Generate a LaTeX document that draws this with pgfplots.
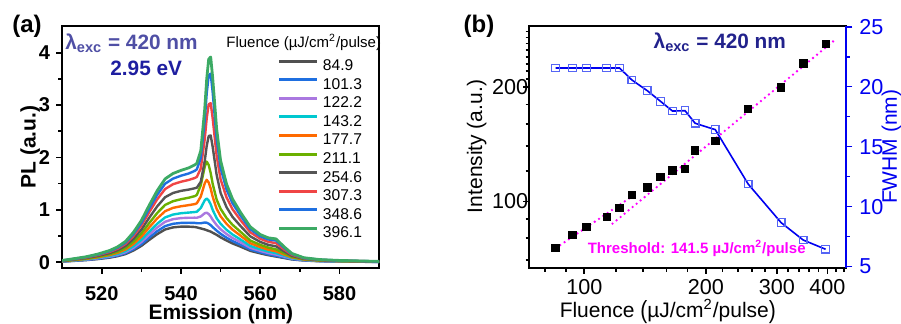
\documentclass[border=0pt]{standalone}
\usepackage{pgfplots}
\pgfplotsset{compat=1.18}
\usepackage{pgfplotstable}
\usepackage{fontspec}
\setmainfont{Liberation Sans}

\definecolor{cA}{HTML}{505050}
\definecolor{cB}{HTML}{1F6FE0}
\definecolor{cC}{HTML}{AA78E0}
\definecolor{cD}{HTML}{00C8D0}
\definecolor{cE}{HTML}{FF6A00}
\definecolor{cF}{HTML}{6BB000}
\definecolor{cG}{HTML}{555555}
\definecolor{cH}{HTML}{F04545}
\definecolor{cI}{HTML}{1F6FE0}
\definecolor{cJ}{HTML}{3CAA64}
\definecolor{mag}{HTML}{FF00FF}
\definecolor{fblue}{HTML}{0000F0}
\definecolor{sqblue}{HTML}{5565F5}
\definecolor{navyA}{HTML}{4F4FA5}
\definecolor{navyB}{HTML}{1E1EA0}
\definecolor{navyC}{HTML}{22228C}

\pgfplotstableread{
x c1 c2 c3 c4 c5 c6 c7 c8 c9 c10
510 0.014 0.015 0.017 0.019 0.021 0.024 0.027 0.030 0.033 0.035
513 0.027 0.030 0.034 0.037 0.042 0.048 0.054 0.061 0.065 0.069
516 0.041 0.045 0.050 0.056 0.064 0.071 0.081 0.091 0.098 0.104
519 0.061 0.068 0.076 0.084 0.095 0.107 0.122 0.137 0.147 0.156
522 0.088 0.098 0.109 0.121 0.138 0.155 0.176 0.198 0.212 0.225
524 0.116 0.128 0.143 0.158 0.180 0.202 0.230 0.258 0.277 0.294
526 0.156 0.173 0.193 0.214 0.244 0.274 0.311 0.350 0.375 0.398
528 0.224 0.248 0.277 0.307 0.350 0.393 0.446 0.502 0.538 0.571
530 0.313 0.345 0.386 0.428 0.488 0.547 0.621 0.699 0.750 0.796
532 0.428 0.473 0.529 0.586 0.668 0.750 0.851 0.958 1.027 1.090
534 0.537 0.593 0.664 0.735 0.837 0.940 1.067 1.201 1.288 1.367
536 0.626 0.690 0.773 0.856 0.975 1.095 1.242 1.398 1.500 1.592
538 0.666 0.735 0.823 0.911 1.039 1.166 1.323 1.490 1.597 1.695
540 0.680 0.751 0.843 0.936 1.069 1.203 1.363 1.537 1.652 1.754
542 0.680 0.754 0.850 0.949 1.091 1.233 1.388 1.572 1.696 1.803
543.5 0.673 0.751 0.851 0.959 1.111 1.263 1.413 1.609 1.746 1.859
544 0.666 0.746 0.850 0.964 1.126 1.285 1.424 1.628 1.773 1.889
545 0.646 0.745 0.874 1.036 1.255 1.471 1.535 1.790 1.989 2.130
546 0.626 0.759 0.936 1.183 1.508 1.826 1.935 2.350 2.710 2.929
546.5 0.612 0.755 0.946 1.217 1.574 1.921 2.223 2.752 3.227 3.501
547 0.598 0.736 0.920 1.179 1.522 1.855 2.410 3.016 3.568 3.879
547.5 0.585 0.709 0.874 1.104 1.408 1.703 2.421 3.037 3.602 3.918
548 0.564 0.671 0.811 1.000 1.252 1.498 2.205 2.750 3.245 3.526
549 0.524 0.604 0.710 0.841 1.021 1.197 1.670 2.035 2.355 2.547
550 0.476 0.543 0.630 0.735 0.878 1.020 1.323 1.583 1.801 1.940
551.5 0.415 0.469 0.539 0.620 0.734 0.845 1.051 1.238 1.390 1.492
553 0.360 0.406 0.464 0.531 0.624 0.716 0.867 1.014 1.128 1.209
555 0.299 0.336 0.383 0.436 0.509 0.584 0.695 0.807 0.893 0.955
557.5 0.218 0.243 0.277 0.313 0.364 0.415 0.495 0.573 0.632 0.676
560 0.170 0.190 0.218 0.248 0.290 0.333 0.389 0.449 0.496 0.530
562 0.136 0.152 0.178 0.206 0.242 0.281 0.333 0.391 0.436 0.467
564 0.109 0.121 0.147 0.175 0.209 0.246 0.304 0.365 0.415 0.446
566 0.082 0.091 0.109 0.127 0.150 0.176 0.210 0.247 0.279 0.298
568 0.054 0.060 0.070 0.079 0.093 0.105 0.123 0.144 0.158 0.168
571 0.034 0.038 0.042 0.047 0.053 0.060 0.068 0.076 0.082 0.087
575 0.020 0.023 0.025 0.028 0.032 0.036 0.041 0.046 0.049 0.052
580 0.014 0.015 0.017 0.019 0.021 0.024 0.027 0.030 0.033 0.035
585 0.010 0.011 0.013 0.014 0.016 0.018 0.020 0.023 0.024 0.026
590 0.007 0.008 0.008 0.009 0.011 0.012 0.014 0.015 0.016 0.017
}\spec

\pgfplotstableread{
f I w
84.9 75.4 21.56
93.5 81.6 21.56
101.3 85.6 21.56
113.6 91.0 21.56
122.2 96.2 21.56
131.2 104.1 20.56
143.2 108.9 19.67
154.5 115.9 18.78
165.4 120.6 17.97
177.7 121.7 18.00
188.2 136.0 16.95
211.1 144.2 16.42
254.6 175.4 11.89
307.3 199.5 8.67
348.6 230.5 7.22
396.1 259.7 6.45
}\fdat

\begin{document}
\begin{tikzpicture}
\useasboundingbox (-31.05pt,-28pt) rectangle (419.45pt,134pt);
% ---------------- panel (a)
\begin{axis}[
  at={(0pt,0pt)}, anchor=south west, scale only axis,
  width=158.5pt, height=121pt,
  xmin=510, xmax=590, ymin=-0.109, ymax=4.51,
  xtick={520,540,560,580}, minor xtick={530,550,570},
  ytick={0,1,2,3,4}, minor ytick={0.5,1.5,2.5,3.5},
  tick align=outside, xtick pos=bottom, ytick pos=left,
  major tick length=3pt, minor tick length=1.8pt,
  every tick/.style={black, line width=0.8pt},
  axis line style={line width=1pt},
  /pgf/number format/assume math mode=true,
  ticklabel style={font=\fontsize{10}{11}\selectfont\bfseries},
  xticklabel style={yshift=-2.6pt},
  yticklabel style={xshift=0.5pt},
  xlabel={Emission (nm)}, ylabel={PL (a.u.)},
  label style={font=\fontsize{10.5}{12}\selectfont\bfseries},
  xlabel style={at={(axis description cs:0.501,-0.19)}, anchor=center},
  ylabel style={at={(axis description cs:-0.101,0.5)}, anchor=center},
  legend style={at={(axis description cs:0.681,0.866)}, anchor=north west,
    draw=none, fill=none, inner sep=0pt, outer sep=0pt, row sep=1.3pt,
    font=\fontsize{7.8}{9}\selectfont,
    nodes={inner sep=0.5pt, text height=5.5pt, text depth=1.5pt},
    /tikz/every odd column/.append style={column sep=1.5pt}},
  legend cell align=left,
  legend image code/.code={\draw[#1, line width=1.5pt] (0pt,2.7pt) -- (19pt,2.7pt);},
]
\addplot[cA, line width=1.2pt, line join=round] table[x=x,y=c1] {\spec}; \addlegendentry{84.9}
\addplot[cB, line width=1.2pt, line join=round] table[x=x,y=c2] {\spec}; \addlegendentry{101.3}
\addplot[cC, line width=1.2pt, line join=round] table[x=x,y=c3] {\spec}; \addlegendentry{122.2}
\addplot[cD, line width=1.2pt, line join=round] table[x=x,y=c4] {\spec}; \addlegendentry{143.2}
\addplot[cE, line width=1.2pt, line join=round] table[x=x,y=c5] {\spec}; \addlegendentry{177.7}
\addplot[cF, line width=1.2pt, line join=round] table[x=x,y=c6] {\spec}; \addlegendentry{211.1}
\addplot[cG, line width=1.2pt, line join=round] table[x=x,y=c7] {\spec}; \addlegendentry{254.6}
\addplot[cH, line width=1.2pt, line join=round] table[x=x,y=c8] {\spec}; \addlegendentry{307.3}
\addplot[cI, line width=1.2pt, line join=round] table[x=x,y=c9] {\spec}; \addlegendentry{348.6}
\addplot[cJ, line width=1.4pt, line join=round] table[x=x,y=c10] {\spec}; \addlegendentry{396.1}
\end{axis}
\node[anchor=base west, inner sep=0pt, text=navyA, font=\fontsize{10.4}{12}\selectfont\bfseries] at (1.45pt,109pt) {λ\textsubscript{exc} = 420 nm};
\node[anchor=base west, inner sep=0pt, text=navyB, font=\fontsize{10.4}{12}\selectfont\bfseries] at (23.95pt,96pt) {2.95 eV};
\node[inner sep=0pt, font=\fontsize{7.5}{9}\selectfont] at (120.8pt,112.65pt) {Fluence (µJ/cm\textsuperscript{2}/pulse)};
\node[inner sep=0pt, font=\fontsize{12}{14}\selectfont\bfseries] at (-17.55pt,121pt) {(a)};
% ---------------- panel (b)
\begin{axis}[
  at={(233.6pt,0pt)}, anchor=south west, scale only axis,
  width=158.5pt, height=121pt,
  xmode=log, ymode=log,
  xmin=73.1, xmax=445.7, ymin=66.8, ymax=289.3,
  xtick={100,200,300,400}, xticklabels={100,200,300,400},
  ytick={100,200}, yticklabels={100,200},
  minor xtick={80,90,120,140,160,180,220,240,260,280,320,340,360,380,420,440},
  minor ytick={70,80,90,120,140,160,180,210,220,230,240,250,260,270,280},
  tick align=outside, xtick pos=bottom, ytick pos=left,
  major tick length=3pt, minor tick length=1.8pt,
  every tick/.style={black, line width=0.8pt},
  axis line style={line width=1pt},
  /pgf/number format/assume math mode=true,
  ticklabel style={font=\fontsize{10.8}{12}\selectfont},
  xticklabel style={yshift=0.8pt},
  yticklabel style={xshift=6pt},
  xlabel={Fluence \raisebox{-0.08em}{\scalebox{1}[1.18]{(}}µJ/cm\textsuperscript{2}/pulse\raisebox{-0.08em}{\scalebox{1}[1.18]{)}}}, ylabel={Intensity (a.u.)},
  label style={font=\fontsize{10.5}{12}\selectfont},
  xlabel style={at={(axis description cs:0.437,-0.18)}, anchor=center},
  ylabel style={at={(axis description cs:-0.166,0.502)}, anchor=center},
]
\addplot[only marks, mark=square*, mark size=1.85pt, black] table[x=f,y=I] {\fdat};
\addplot[mag, line width=1.3pt, dash pattern=on 0pt off 2.6pt, line cap=round] coordinates {(85.1,75.4) (129.7,102.1)};
\addplot[mag, line width=1.3pt, dash pattern=on 0pt off 2.6pt, line cap=round] coordinates {(117.5,87.4) (421,267.7)};
\end{axis}
\begin{axis}[
  at={(233.6pt,0pt)}, anchor=south west, scale only axis,
  width=158.5pt, height=121pt,
  xmode=log, xmin=73.1, xmax=445.7, ymin=4.89, ymax=25.06,
  hide x axis, axis y line*=right,
  ytick={5,10,15,20,25}, minor ytick={7.5,12.5,17.5,22.5},
  tick align=outside,
  major tick length=3pt, minor tick length=1.8pt,
  y axis line style={fblue, line width=1pt},
  every y tick/.style={fblue, line width=0.8pt},
  /pgf/number format/assume math mode=true,
  yticklabel style={text=fblue, font=\fontsize{10.8}{12}\selectfont},
  ylabel={FWHM (nm)},
  ylabel style={text=fblue, font=\fontsize{10.5}{12}\selectfont, at={(axis description cs:1.142,0.501)}, anchor=center},
]
\addplot[fblue, line width=0.8pt, mark=square, mark size=1.9pt, mark options={solid, fill=white, draw=sqblue, line width=0.6pt}] table[x=f,y=w] {\fdat};
\end{axis}
\node[anchor=base west, inner sep=0pt, text=navyC, font=\fontsize{10.4}{12}\selectfont\bfseries] at (295.6pt,109.85pt) {λ\textsubscript{exc} = 420 nm};
\node[inner sep=0pt, text=mag, font=\fontsize{7.5}{8}\selectfont\bfseries] at (317.3pt,9.85pt) {Threshold: 141.5 µJ/cm\textsuperscript{2}/pulse};
\node[inner sep=0pt, font=\fontsize{12}{14}\selectfont\bfseries] at (208.45pt,121pt) {(b)};
\end{tikzpicture}
\end{document}
